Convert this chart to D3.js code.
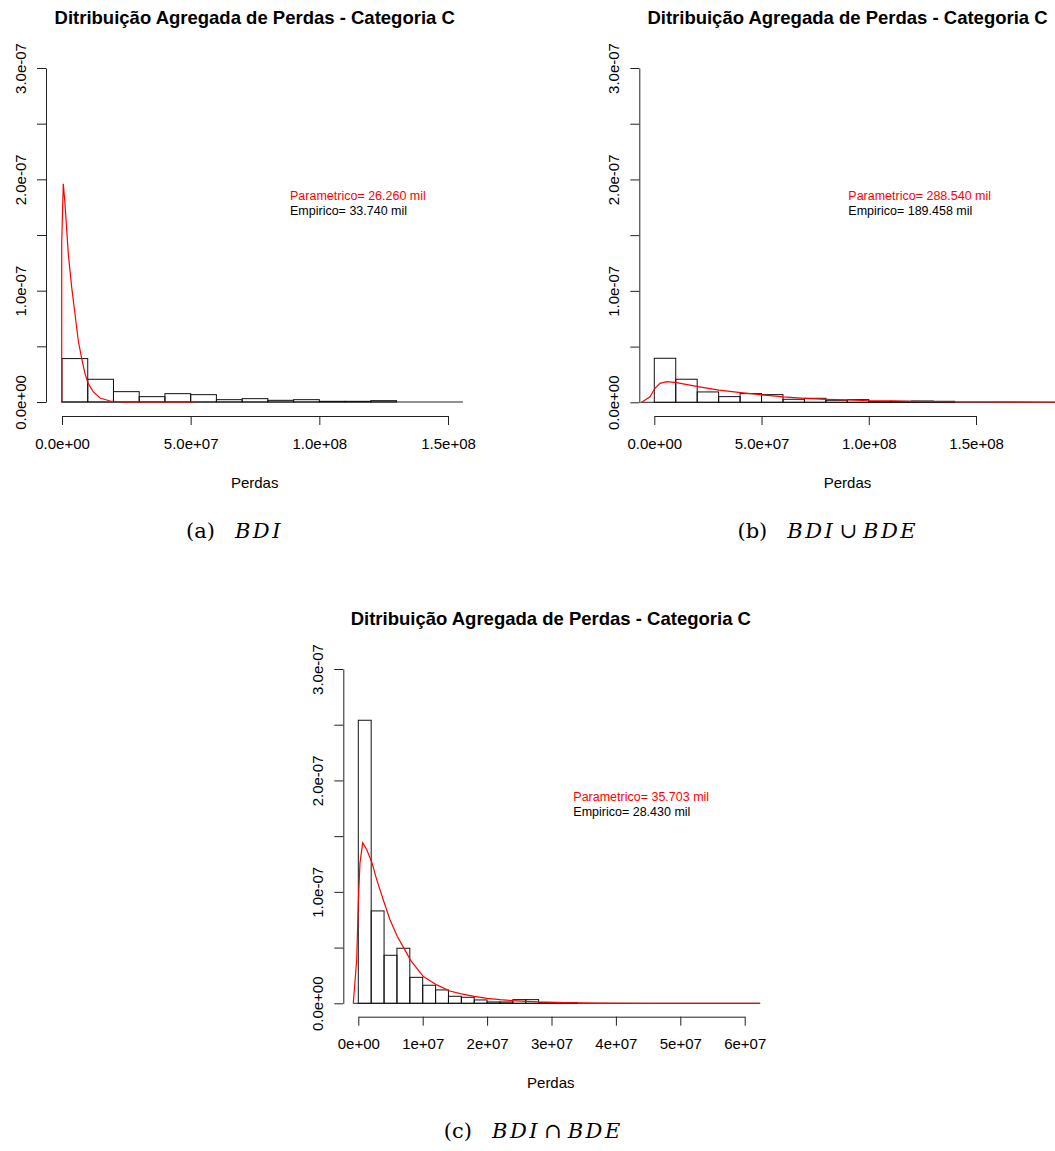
<!DOCTYPE html>
<html>
<head>
<meta charset="utf-8">
<script src="https://cdn.jsdelivr.net/npm/d3@7"></script>
<style>
  body { margin: 0; background: #fff; }
  svg { display: block; }
  text { font-family: "Liberation Sans", Arial, sans-serif; fill: #000; }
  text.caption { font-family: "DejaVu Serif", "Liberation Serif", serif; }
</style>
</head>
<body>
<script>
// ---- dados ----
// limites das classes do histograma (em milhões)
const breaksA = [0, 10, 20, 30, 40, 50, 60, 70, 80, 90, 100, 110, 120, 130];
const breaksB = [0, 10, 20, 30, 40, 50, 60, 70, 80, 90, 100, 110, 120, 130, 140];
const breaksC = [0, 2, 4, 6, 8, 10, 12, 14, 16, 18, 20, 22, 24, 26, 28, 30, 32, 34];

// densidades empíricas (em 1e-7)
const densA = [0.39, 0.204, 0.093, 0.048, 0.075, 0.066, 0.021, 0.03, 0.015, 0.021, 0.006, 0.006, 0.012];
const densB = [0.395, 0.207, 0.093, 0.051, 0.078, 0.069, 0.027, 0.036, 0.018, 0.024, 0.006, 0.009, 0.012, 0.009];
const densC = [2.54, 0.829, 0.431, 0.494, 0.233, 0.162, 0.12, 0.063, 0.054, 0.03, 0.012, 0.012, 0.033, 0.033, 0.006, 0.006, 0.006];

// curva paramétrica (x em milhões, y em 1e-7)
const curveAx = [-0.12, -0.12, 0.5, 1.17, 2.45, 3.77, 5.05, 6.33, 7.66, 8.94, 10.2, 12.2, 14.8, 18.7, 23.8, 51.7];
const curveAy = [0, 1.42, 1.96, 1.78, 1.33, 1.03, 0.79, 0.55, 0.39, 0.255, 0.165, 0.09, 0.036, 0.009, 0, 0];
const curveBx = [-5.9, -2.0, 0.3, 2.65, 5.8, 10.4, 20.3, 30.2, 40.3, 50.2, 60.2, 70.2, 80.2, 90, 100, 110, 120, 137, 200];
const curveBy = [0, 0.05, 0.126, 0.17, 0.185, 0.176, 0.14, 0.11, 0.086, 0.066, 0.048, 0.036, 0.027, 0.021, 0.014, 0.012, 0.009, 0.005, 0.002];
const curveCx = [-0.78, -0.25, 0, 0.26, 0.68, 1.3, 2.13, 2.86, 4.04, 4.92, 6.06, 7.52, 8.07, 10.1, 12.2, 14.2, 16, 18, 20, 22, 24, 26, 28, 32, 37, 45, 62.4];
const curveCy = [0, 0.39, 0.9, 1.26, 1.44, 1.38, 1.26, 1.11, 0.9, 0.75, 0.6, 0.45, 0.39, 0.24, 0.165, 0.11, 0.085, 0.062, 0.045, 0.033, 0.024, 0.018, 0.012, 0.006, 0.002, 0, 0];

// linha de base (x em milhões)
const baseA = [-0.4, 155.8];
const baseB = [-6.5, 200];
const baseC = [-0.8, 62.4];

// eixos
const yTicks = [0, 0.5, 1, 1.5, 2, 2.5, 3];
const yTickLabels = ['0.0e+00', '', '1.0e-07', '', '2.0e-07', '', '3.0e-07'];
const xTicksAB = [0, 50, 100, 150];
const xTickLabelsAB = ['0.0e+00', '5.0e+07', '1.0e+08', '1.5e+08'];
const xTicksC = [0, 10, 20, 30, 40, 50, 60];
const xTickLabelsC = ['0e+00', '1e+07', '2e+07', '3e+07', '4e+07', '5e+07', '6e+07'];

// textos
const title = 'Ditribuição Agregada de Perdas - Categoria C';
const xLabel = 'Perdas';
const legendParam = ['Parametrico= 26.260 mil', 'Parametrico= 288.540 mil', 'Parametrico= 35.703 mil'];
const legendEmp = ['Empirico= 33.740 mil', 'Empirico= 189.458 mil', 'Empirico= 28.430 mil'];
const captionParts = [['(a)', 'BDI'], ['(b)', 'BDI', '∪', 'BDE'], ['(c)', 'BDI', '∩', 'BDE']];

const svg = d3.select('body').append('svg')
    .attr('width', 1055).attr('height', 1151);

// desenha um painel (histograma + curva + eixos)
function drawPanel(p){
    const x = d3.scaleLinear().domain([0, p.xMax]).range(p.xRange);
    const y = d3.scaleLinear().domain([0, 3]).range(p.yRange);
    const g = svg.append('g');

    // linha de base em y=0
    g.append('line')
        .attr('x1', x(p.base[0])).attr('x2', x(p.base[1]))
        .attr('y1', y(0)).attr('y2', y(0))
        .style('stroke', '#222').style('stroke-width', 1);

    // barras
    const bins = p.dens.map((d, i) => ({x0: p.breaks[i], x1: p.breaks[i + 1], v: d}));
    g.selectAll('.bar').data(bins).join('rect')
        .attr('class', 'bar')
        .attr('x', d => x(d.x0)).attr('y', d => y(d.v))
        .attr('width', d => x(d.x1) - x(d.x0))
        .attr('height', d => y(0) - y(d.v))
        .style('fill', 'none').style('stroke', '#111').style('stroke-width', 1);

    // curva vermelha
    const pts = p.cx.map((v, i) => [v, p.cy[i]]);
    g.append('path')
        .attr('d', d3.line().x(d => x(d[0])).y(d => y(d[1]))(pts))
        .style('fill', 'none').style('stroke', '#ff0000').style('stroke-width', 1.2);

    // eixo Y
    const yAxis = d3.axisLeft(y).tickValues(yTicks)
        .tickFormat((d, i) => yTickLabels[i]).tickSize(9).tickSizeOuter(0);
    const yG = g.append('g').attr('transform', `translate(${p.yAxisX},0)`).call(yAxis);
    yG.selectAll('text')
        .attr('transform', 'rotate(-90)')
        .attr('x', 0).attr('y', -20).attr('dy', 0)
        .style('text-anchor', 'middle').style('font-size', '15px')
        .style('font-family', '"Liberation Sans", Arial, sans-serif');

    // eixo X
    const xAxis = d3.axisBottom(x).tickValues(p.xTicks)
        .tickFormat((d, i) => p.xTickLabels[i]).tickSize(9).tickSizeOuter(0);
    const xG = g.append('g').attr('transform', `translate(0,${p.xAxisY})`).call(xAxis);
    xG.selectAll('text')
        .attr('y', 32.5).attr('dy', 0)
        .style('font-size', '15px')
        .style('font-family', '"Liberation Sans", Arial, sans-serif');
    svg.selectAll('.domain, .tick line').style('stroke', '#222');

    // título e rótulo do eixo
    g.append('text').text(title)
        .attr('x', p.titleX).attr('y', p.titleY)
        .style('text-anchor', 'middle').style('font-weight', 'bold').style('font-size', '18.5px');
    g.append('text').text(xLabel)
        .attr('x', p.titleX).attr('y', p.xAxisY + 71.5)
        .style('text-anchor', 'middle').style('font-size', '15px');

    // legenda
    g.append('text').text(legendParam[p.k])
        .attr('x', p.legX).attr('y', p.legY)
        .style('fill', '#ff0000').style('font-size', '12.5px');
    g.append('text').text(legendEmp[p.k])
        .attr('x', p.legX).attr('y', p.legY + 14.5)
        .style('font-size', '12.5px');

    // legenda da subfigura, centrada
    const cap = svg.append('text').attr('class', 'caption')
        .attr('x', p.capX).attr('y', p.capY)
        .style('text-anchor', 'middle').style('font-size', '21px');
    const gaps = [0, 20, 4, 6];
    captionParts[p.k].forEach((s, i) => {
        const isSet = /^[A-Z]+$/.test(s);
        cap.append('tspan').text(s)
            .attr('dx', gaps[i])
            .style('font-style', isSet ? 'italic' : 'normal')
            .style('letter-spacing', isSet ? '2.5px' : '0px');
    });
}

drawPanel({k: 0, breaks: breaksA, dens: densA, cx: curveAx, cy: curveAy, base: baseA,
    xMax: 150, xRange: [62, 448], yRange: [402, 68], yAxisX: 46, xAxisY: 416,
    xTicks: xTicksAB, xTickLabels: xTickLabelsAB,
    titleX: 254.7, titleY: 24, legX: 290, legY: 200,
    capX: 234.5, capY: 538});

drawPanel({k: 1, breaks: breaksB, dens: densB, cx: curveBx, cy: curveBy, base: baseB,
    xMax: 150, xRange: [654.3, 976], yRange: [402.3, 68], yAxisX: 639.3, xAxisY: 416,
    xTicks: xTicksAB, xTickLabels: xTickLabelsAB,
    titleX: 847.5, titleY: 24, legX: 848.3, legY: 200,
    capX: 827.8, capY: 538});

drawPanel({k: 2, breaks: breaksC, dens: densC, cx: curveCx, cy: curveCy, base: baseC,
    xMax: 60, xRange: [358.3, 744.7], yRange: [1003.3, 669], yAxisX: 343.3, xAxisY: 1016.7,
    xTicks: xTicksC, xTickLabels: xTickLabelsC,
    titleX: 550.8, titleY: 625, legX: 573.3, legY: 801,
    capX: 533.3, capY: 1137.5});
</script>
</body>
</html>
